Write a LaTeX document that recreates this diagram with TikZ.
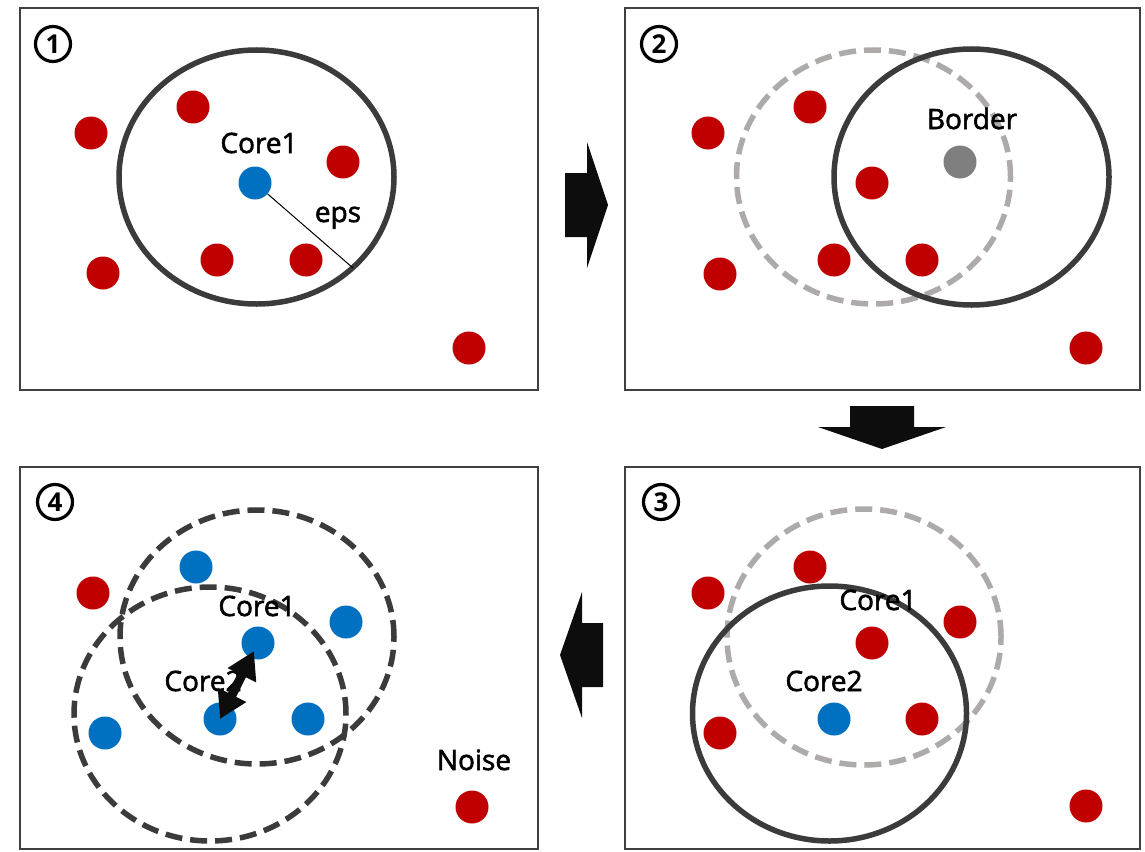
\documentclass[tikz,border=0pt]{standalone}
\usepackage{fontspec}
\setmainfont{Noto Sans}
\newfontfamily\lblfont{Open Sans}[FakeBold=2]
\newfontfamily\numfont{Open Sans}
\usetikzlibrary{arrows.meta}
\definecolor{dotred}{HTML}{C00000}
\definecolor{dotblue}{HTML}{0070C0}
\definecolor{dotgray}{HTML}{7F7F7F}
\definecolor{ringdark}{HTML}{3B3B3B}
\definecolor{ringlight}{HTML}{AEAAAA}
\definecolor{framecol}{HTML}{404040}
\definecolor{blockcol}{HTML}{0D0D0D}
\begin{document}
\begin{tikzpicture}[x=1pt,y=-1pt,
  panel/.style={draw=framecol,line width=2.2pt},
  rdot/.style={circle,fill=dotred,minimum size=33pt,inner sep=0pt},
  bdot/.style={circle,fill=dotblue,minimum size=33pt,inner sep=0pt},
  gdot/.style={circle,fill=dotgray,minimum size=33pt,inner sep=0pt},
  ring/.style={draw=ringdark,line width=5.5pt},
  dring/.style={draw=ringdark,line width=5.5pt,dash pattern=on 17pt off 8pt},
  lring/.style={draw=ringlight,line width=5.5pt,dash pattern=on 17pt off 8pt},
  lbl/.style={anchor=base,inner sep=0pt,font=\lblfont\fontsize{28}{30}\selectfont},
  numc/.style={circle,draw=black,line width=3.2pt,minimum size=35pt,inner sep=0pt,
    font=\numfont\bfseries\fontsize{26}{26}\selectfont},
  block/.style={fill=blockcol}
]
\useasboundingbox (0,0) rectangle (1145,851);

% panels
\draw[panel] (20,8) rectangle (538,390);
\draw[panel] (625,8) rectangle (1140,390);
\draw[panel] (625,467) rectangle (1140,849);
\draw[panel] (20,467) rectangle (538,849);

% number marks
\node[numc] (n1) at (53,44) {1};
\node[numc] (n2) at (659,44) {2};
\node[numc] (n3) at (661,502) {3};
\node[numc] (n4) at (55,502) {4};

% block arrows
\fill[block] (565,173) -- (587,173) -- (587,142) -- (608,205) -- (587,268) -- (587,237) -- (565,237) -- cycle;
\fill[block] (850,406) -- (914,406) -- (914,427) -- (946,427) -- (882,449) -- (818,427) -- (850,427) -- cycle;
\fill[block] (603,623) -- (582,623) -- (582,592) -- (560,655) -- (582,718) -- (582,687) -- (603,687) -- cycle;

% ---------- panel 1 ----------
\draw[ring] (256.5,177) ellipse [x radius=137.5pt, y radius=127pt];
\node[rdot] (a1) at (91,133) {};
\node[rdot] (a2) at (193,107) {};
\node[rdot] (a3) at (343,162) {};
\node[rdot] (a4) at (103,273) {};
\node[rdot] (a5) at (217,260) {};
\node[rdot] (a6) at (306,260) {};
\node[rdot] (a7) at (469,348) {};
\node[bdot] (ac) at (255,183) {};
\coordinate (epsend) at (353,268);
\draw[black,line width=1pt] (ac) -- (epsend);
\node[lbl] (acl) at (259,153) {Core1};
\node[lbl] (eps) at (338,222) {eps};

% ---------- panel 2 ----------
\draw[lring] (873.5,177) ellipse [x radius=137pt, y radius=127pt];
\draw[ring] (971.5,177) ellipse [x radius=137.5pt, y radius=128pt];
\node[rdot] (b1) at (708,133) {};
\node[rdot] (b2) at (810,107) {};
\node[rdot] (b3) at (872,183) {};
\node[rdot] (b4) at (720,274) {};
\node[rdot] (b5) at (834,260) {};
\node[rdot] (b6) at (922,260) {};
\node[rdot] (b7) at (1086,348) {};
\node[gdot] (bb) at (960,162) {};
\node[lbl] (bbl) at (972,129) {Border};

% ---------- panel 3 ----------
\draw[lring] (864,637) ellipse [x radius=137pt, y radius=128pt];
\draw[ring] (829.5,713.5) ellipse [x radius=137pt, y radius=127.5pt];
\node[rdot] (c1) at (708,593) {};
\node[rdot] (c2) at (810,567) {};
\node[rdot] (c3) at (960,622) {};
\node[rdot] (c4) at (872,643) {};
\node[rdot] (c5) at (720,733) {};
\node[rdot] (c6) at (922,719) {};
\node[rdot] (c7) at (1086,806) {};
\node[bdot] (cc) at (834,719) {};
\node[lbl] (c1l) at (878,610) {Core1};
\node[lbl] (c2l) at (824,691) {Core2};

% ---------- panel 4 ----------
\draw[dring] (257,637) ellipse [x radius=137pt, y radius=127pt];
\draw[dring] (210,714) ellipse [x radius=136pt, y radius=127pt];
\node[rdot] (d1) at (93,593) {};
\node[bdot] (d2) at (196,567) {};
\node[bdot] (d3) at (346,622) {};
\node[bdot] (dk1) at (258,643) {};
\node[bdot] (dk2) at (220,719) {};
\node[bdot] (d6) at (308,719) {};
\node[bdot] (d7) at (105,733) {};
\node[rdot] (d8) at (472,807) {};
\node[lbl] (d1l) at (257,616) {Core1};
\node[lbl] (d2l) at (203,691) {Core2};
\node[lbl] (noise) at (474,770) {Noise};
\draw[blockcol,line width=9pt,
  {Triangle[width=30pt,length=27pt]}-{Triangle[width=30pt,length=27pt]},
  shorten >=9pt, shorten <=0pt] (dk2.center) -- (dk1.center);

\end{tikzpicture}
\end{document}
